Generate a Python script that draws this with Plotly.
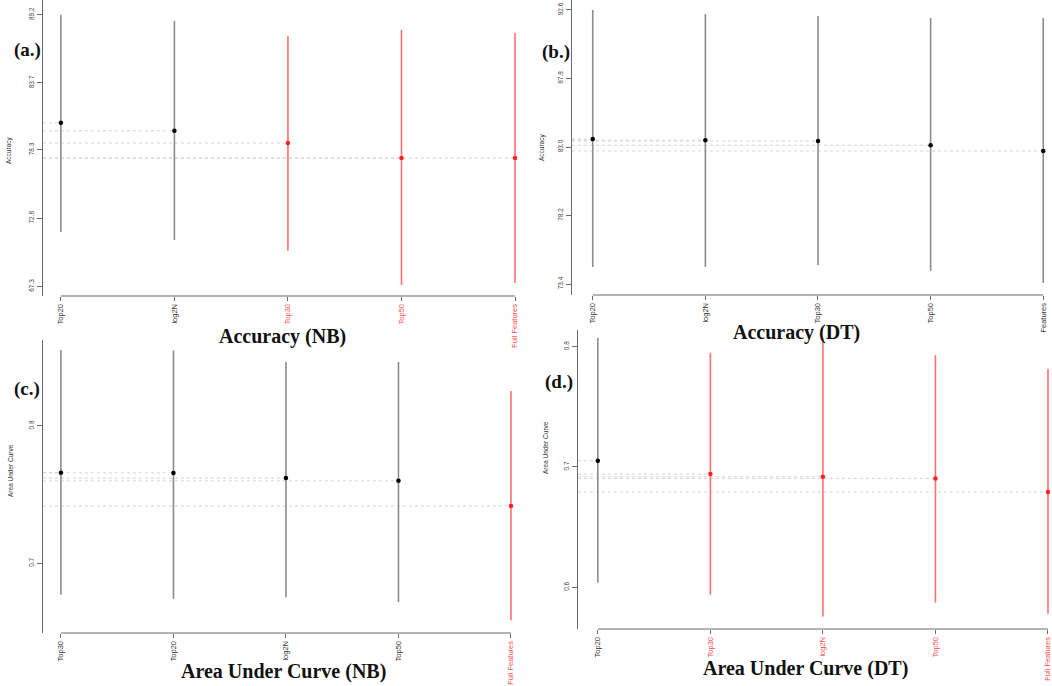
import plotly.graph_objects as go

W, H = 1052, 686

# ---------------- data ----------------
# (a) Accuracy (NB)
a_labels = ["Top20", "log2N", "Top30", "Top50", "Full Features"]
a_mean = [80.48, 79.84, 78.85, 77.64, 77.64]
a_low = [71.69, 71.05, 70.17, 67.42, 67.58]
a_high = [89.2, 88.7, 87.48, 87.97, 87.73]
a_red = [False, False, True, True, True]
a_ticks = [67.3, 72.8, 78.3, 83.7, 89.2]

# (b) Accuracy (DT)
b_labels = ["Top20", "log2N", "Top30", "Top50", "Full Features"]
b_mean = [83.56, 83.47, 83.42, 83.12, 82.72]
b_low = [74.59, 74.59, 74.73, 74.31, 73.47]
b_high = [92.6, 92.32, 92.18, 92.04, 92.04]
b_red = [False, False, False, False, False]
b_ticks = [73.4, 78.2, 83.0, 87.8, 92.6]

# (c) Area Under Curve (NB)
c_labels = ["Top30", "Top20", "log2N", "Top50", "Full Features"]
c_mean = [0.766, 0.7658, 0.762, 0.760, 0.7417]
c_low = [0.677, 0.674, 0.6753, 0.6717, 0.6585]
c_high = [0.8553, 0.855, 0.8466, 0.8466, 0.8255]
c_red = [False, False, False, False, True]
c_ticks = [0.7, 0.8]

# (d) Area Under Curve (DT)
d_labels = ["Top20", "Top30", "log2N", "Top50", "Full Features"]
d_mean = [0.7052, 0.6941, 0.6919, 0.6905, 0.6792]
d_low = [0.6037, 0.5938, 0.5756, 0.5871, 0.5780]
d_high = [0.8072, 0.7948, 0.8072, 0.7931, 0.7815]
d_red = [False, True, True, True, True]
d_ticks = [0.6, 0.7, 0.8]

panels = [
    dict(key="", labels=a_labels, mean=a_mean, low=a_low, high=a_high, red=a_red,
         ticks=a_ticks, xr=[-0.158, 4.123], yr=[66.53, 90.38],
         xd=[43, 530], yd=[0, 296],
         title="Accuracy (NB)", tx=283, ty=337, tag="(a.)", tagx=28, tagy=50,
         ytitle="Accuracy", ytx=9, yty=150),
    dict(key="2", labels=b_labels, mean=b_mean, low=b_low, high=b_high, red=b_red,
         ticks=b_ticks, xr=[-0.185, 4.06], yr=[72.63, 93.3],
         xd=[573, 1052], yd=[0, 295],
         title="Accuracy (DT)", tx=798, ty=333, tag="(b.)", tagx=557, tagy=52,
         ytitle="Accuracy", ytx=543, yty=147),
    dict(key="3", labels=c_labels, mean=c_mean, low=c_low, high=c_high, red=c_red,
         ticks=c_ticks, xr=[-0.16, 4.16], yr=[0.6492, 0.8626],
         xd=[43, 530], yd=[340, 633],
         title="Area Under Curve (NB)", tx=284, ty=671, tag="(c.)", tagx=27, tagy=389,
         ytitle="Area Under Curve", ytx=10, yty=470),
    dict(key="4", labels=d_labels, mean=d_mean, low=d_low, high=d_high, red=d_red,
         ticks=d_ticks, xr=[-0.177, 4.018], yr=[0.5653, 0.8139],
         xd=[579, 1052], yd=[330, 629],
         title="Area Under Curve (DT)", tx=807, ty=668, tag="(d.)", tagx=560, tagy=382,
         ytitle="Area Under Curve", ytx=546, yty=447),
]

RED = "#ff2020"
RED_LINE = "#ff7070"
GRAY_LINE = "#8c8c8c"
AXIS = "#6a6a6a"

fig = go.Figure()
annotations = []
shapes = []

for p in panels:
    k = p["key"]
    xa, ya = "x" + k, "y" + k
    n = len(p["labels"])
    axis_x = p["xr"][0]
    for i in range(n):
        # dotted reference line from the y axis to the point
        fig.add_trace(go.Scatter(
            x=[axis_x, i], y=[p["mean"][i], p["mean"][i]], mode="lines",
            line=dict(color="#cfcfcf", width=0.9, dash="dot"),
            xaxis=xa, yaxis=ya, showlegend=False, hoverinfo="skip"))
    for i in range(n):
        red = p["red"][i]
        m = p["mean"][i]
        fig.add_trace(go.Scatter(
            x=[i], y=[m], mode="markers",
            marker=dict(color=RED if red else "black", size=4.5),
            error_y=dict(type="data", symmetric=False,
                         array=[p["high"][i] - m], arrayminus=[m - p["low"][i]],
                         width=0, thickness=1.6,
                         color=RED_LINE if red else GRAY_LINE),
            xaxis=xa, yaxis=ya, showlegend=False))
    ticktext = []
    for lab, red in zip(p["labels"], p["red"]):
        if red:
            ticktext.append(f'<span style="color:#ff4d4d">{lab}</span>')
        else:
            ticktext.append(lab)
    fig.layout["xaxis" + k] = dict(
        domain=[p["xd"][0] / W, p["xd"][1] / W],
        range=p["xr"], anchor=ya, showgrid=False, zeroline=False, showline=False,
        tickmode="array", tickvals=list(range(n)), ticktext=ticktext,
        tickangle=-90, ticks="outside", ticklen=4, tickcolor=AXIS, tickwidth=1,
        ticklabeloverflow="allow",
        tickfont=dict(family="Liberation Sans, Arial", size=7.5, color="#333"),
        fixedrange=True)
    fig.layout["yaxis" + k] = dict(
        domain=[1 - p["yd"][1] / H, 1 - p["yd"][0] / H],
        range=p["yr"], anchor=xa, showgrid=False, zeroline=False,
        showline=True, linecolor=AXIS, linewidth=1.2,
        tickmode="array", tickvals=p["ticks"],
        ticktext=[str(t) for t in p["ticks"]],
        tickangle=-90, ticks="outside", ticklen=5, tickcolor=AXIS, tickwidth=1.2,
        ticklabeloverflow="allow",
        tickfont=dict(family="Liberation Sans, Arial", size=6.5, color="#444"),
        fixedrange=True)
    # x axis line from first to last tick (R style)
    shapes.append(dict(type="line", xref=xa, yref="paper", x0=0, x1=n - 1,
                       y0=1 - p["yd"][1] / H, y1=1 - p["yd"][1] / H,
                       line=dict(color=AXIS, width=1.2)))
    annotations.append(dict(text=f"<b>{p['title']}</b>", x=p["tx"] / W, y=1 - p["ty"] / H,
                            xref="paper", yref="paper", showarrow=False,
                            xanchor="center", yanchor="middle",
                            font=dict(family="Liberation Serif, Times New Roman", size=20, color="#111")))
    annotations.append(dict(text=f"<b>{p['tag']}</b>", x=p["tagx"] / W, y=1 - p["tagy"] / H,
                            xref="paper", yref="paper", showarrow=False,
                            xanchor="center", yanchor="middle",
                            font=dict(family="Liberation Serif, Times New Roman", size=19, color="#111")))
    annotations.append(dict(text=p["ytitle"], x=p["ytx"] / W, y=1 - p["yty"] / H,
                            xref="paper", yref="paper", showarrow=False, textangle=-90,
                            xanchor="center", yanchor="middle",
                            font=dict(family="Liberation Sans, Arial", size=6.5, color="#333")))

# white cover where panel (d) image overlaps the bottom of panel (b)'s last label
shapes.append(dict(type="rect", xref="paper", yref="paper", layer="above",
                   x0=1034 / W, x1=1.0, y0=1 - 350 / H, y1=1 - 333 / H,
                   fillcolor="white", line=dict(width=0)))

fig.update_layout(width=W, height=H, margin=dict(l=0, r=0, t=0, b=0),
                  paper_bgcolor="white", plot_bgcolor="white",
                  annotations=annotations, shapes=shapes, showlegend=False)

fig.write_html("out.html")
